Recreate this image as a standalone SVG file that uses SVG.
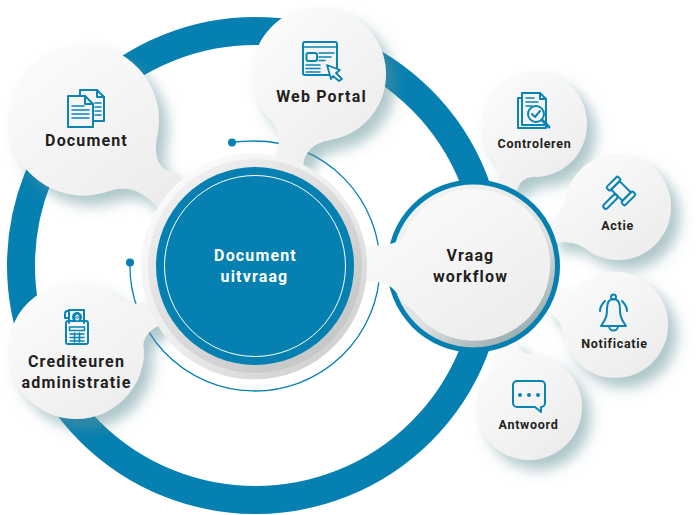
<svg xmlns="http://www.w3.org/2000/svg" width="697" height="515" viewBox="0 0 697 515">
<defs>
<linearGradient id="blobFill" x1="0.1" y1="0.05" x2="0.85" y2="0.95"><stop offset="0" stop-color="#fcfcfc"/><stop offset="1" stop-color="#ececed"/></linearGradient>
<linearGradient id="haloFill" x1="0.15" y1="0.1" x2="0.85" y2="0.9"><stop offset="0" stop-color="#fafafa"/><stop offset="0.55" stop-color="#ececec"/><stop offset="1" stop-color="#cfd0d0"/></linearGradient>
<linearGradient id="halo2Fill" x1="0.15" y1="0.1" x2="0.85" y2="0.9"><stop offset="0" stop-color="#f0f0f0"/><stop offset="1" stop-color="#c4c5c5"/></linearGradient>
<linearGradient id="wfBase" x1="0.2" y1="0.1" x2="0.8" y2="0.95"><stop offset="0" stop-color="#f2f3f3"/><stop offset="0.6" stop-color="#dde0e0"/><stop offset="1" stop-color="#93a8ab"/></linearGradient>
<filter id="shadow" x="-30%" y="-30%" width="170%" height="170%"><feDropShadow dx="9" dy="10" stdDeviation="6.500" flood-color="#5f9198" flood-opacity="0.5"/></filter>
</defs>
<style>
.blob{fill:url(#blobFill);filter:url(#shadow)}
.lbl{font-family:Roboto,"Liberation Sans",sans-serif;font-weight:700;fill:#231f20;text-anchor:middle}
.lg{font-size:16px;letter-spacing:1.150px}
.sm{font-size:12.5px;letter-spacing:.7px}
.wh{fill:#fff}
.ic{fill:none;stroke:#0a84b5;stroke-width:2;stroke-linejoin:round;stroke-linecap:round}
.in{stroke-width:1.6}
.pg{fill:#f5f5f5}
</style>
<rect width="697" height="515" fill="#fff"/>
<circle id="outer-ring" cx="255.5" cy="265.5" r="234.5" fill="none" stroke="#0580b0" stroke-width="28"/>
<g id="connectors">
<path d="M232 142.500C240 141.300 247.500 141 255 141A125 125 0 1 1 130 262" fill="none" stroke="#0580b0" stroke-width="1.300"/>
<circle cx="232" cy="142.500" r="4" fill="#0580b0"/>
<circle cx="130" cy="262.500" r="4" fill="#0580b0"/>
</g>
<g id="node-controleren">
<path class="blob" d="M490.300 154A53 53 0 1 1 537 177C528 176 520 180 517 190L498 183C500 172 498 165 490.300 154Z"/>
<g class="ic"><path d="M522 98H518V128H546V125"/><path class="pg" d="M522 93H540L546 99V125H522Z"/><path d="M540 93V99H546"/><path class="in" d="M526 98H534M526 102H538M526 106H532"/><circle class="pg" cx="536" cy="114" r="8"/><path d="M532 114L535 117L540 111"/><path stroke-width="3" d="M542 120L549 127"/></g>
<text class="lbl sm" x="534.500" y="148">Controleren</text>
</g>
<g id="node-actie">
<path class="blob" d="M566.900 193A53 53 0 1 1 590 252C580 244 570 240 553 243L548 222C556 218 564 210 566.900 193Z"/>
<g class="ic" transform="translate(621 191) rotate(45)"><rect x="-8" y="-6" width="16" height="12"/><rect x="-13" y="-8" width="5" height="16" rx="1.500"/><rect x="8" y="-8" width="5" height="16" rx="1.500"/><rect x="-2.500" y="6" width="5" height="18" rx="2.500"/></g>
<text class="lbl sm" x="617.500" y="230">Actie</text>
</g>
<g id="node-notificatie">
<path class="blob" d="M576 289A53 53 0 1 1 566 345C563 332 562 318 546 310L552 288C560 290 568 290 576 289Z"/>
<g class="ic"><path d="M601 326H626C620 318 620 314 620 309C620 302 617 299 613.500 299C610 299 607 302 607 309C607 314 607 318 601 326Z"/><circle cx="613.500" cy="297" r="2.500"/><path d="M609 326A4.500 4.500 0 0 0 618 326"/><path d="M605 301C602 304 600 307 600 311M622 301C625 304 627 307 627 311"/></g>
<text class="lbl sm" x="614.500" y="348">Notificatie</text>
</g>
<g id="node-antwoord">
<path class="blob" d="M530 354A53 53 0 1 1 494.200 367C499 360 496 352 492 342L516 340C518 348 522 354 530 354Z"/>
<g class="ic"><path d="M517 381H541A4 4 0 0 1 545 385V403A4 4 0 0 1 541 407V412L535 407H517A4 4 0 0 1 513 403V385A4 4 0 0 1 517 381Z"/></g>
<g fill="#0a84b5"><circle cx="520" cy="395" r="2"/><circle cx="529" cy="395" r="2"/><circle cx="538" cy="395" r="2"/></g>
<text class="lbl sm" x="528.500" y="429">Antwoord</text>
</g>
<g id="node-workflow">
<circle cx="473.500" cy="266" r="84" fill="url(#wfBase)" stroke="#0580b0" stroke-width="5"/>
<path d="M403 238C396 244 384 246 362 246L360 282C380 280 393 284 400 298C403 303 407 306 413 310A76 76 0 1 0 403 238Z" fill="url(#blobFill)"/>
<text class="lbl lg" x="470.500" y="261">Vraag</text>
<text class="lbl lg" x="470.500" y="282">workflow</text>
</g>
<g id="node-document">
<path class="blob" d="M157 137A75.500 75.500 0 1 0 110 190.700C127 185 143 190 160 210L190 190L178 174C165 172 152 165 157 137Z"/>
<g class="ic"><path class="pg" d="M80 96V90H97L104 97V121H93"/><path d="M97 90V97H104"/><path class="pg" d="M68 96H85L93 104V127H68Z"/><path d="M85 96V104H93"/><path class="in" d="M72 106H84M72 110H89M72 114H89M72 118H89M95 103H101M95 107H101M95 111H101M95 115H101"/></g>
<text class="lbl lg" x="86.500" y="146">Document</text>
</g>
<g id="node-webportal">
<path class="blob" d="M272.300 122A67 67 0 1 1 330.500 140C318 142 305 148 303 166L275 160C278 145 283 138 272.300 122Z"/>
<g class="ic"><rect x="303" y="42" width="34" height="33" rx="2" class="pg"/><path class="in" d="M303 47H337"/><rect x="306.500" y="53" width="10.500" height="8" rx="2"/><path class="in" d="M319 53H334M319 57H331M319 60.500H325M306 65H320M306 68.500H320M306 72H320"/><path class="pg" d="M327 65L340 70L336 73L342 79L339 81L333 76L331 79Z" stroke-width="1.800"/></g>
<text class="lbl lg" x="321.500" y="102">Web Portal</text>
</g>
<g id="node-crediteuren">
<path class="blob" d="M144 351A68 68 0 1 1 119.800 299C128 305 140 307 152 296L170 320C155 326 140 335 144 351Z"/>
<g class="ic"><path class="pg" d="M69 323V311C69 311 65 310 65 314V318H69M69 310H84V323"/><rect x="66" y="321" width="22" height="23" rx="2"/><rect x="69.500" y="327" width="15" height="3.500" class="in"/><path class="in" d="M70 334H84M70 337.500H84M70 341H84M74.500 333V342M79.500 333V342"/></g>
<circle cx="77" cy="317" r="5" fill="#0a84b5"/>
<text x="77" y="320" text-anchor="middle" font-family="Roboto,'Liberation Sans',sans-serif" font-weight="700" font-size="8" fill="#fff">$</text>
<text class="lbl lg" x="76.500" y="367">Crediteuren</text>
<text class="lbl lg" x="76.500" y="388">administratie</text>
</g>
<g id="node-center">
<circle cx="254" cy="266.500" r="113" fill="url(#haloFill)"/>
<circle cx="255" cy="266" r="107" fill="url(#halo2Fill)"/>
<circle cx="255" cy="266" r="99" fill="#0580b0"/>
<circle cx="255" cy="266" r="90.500" fill="none" stroke="#fff" stroke-width="1"/>
<text class="lbl lg wh" x="255.500" y="261">Document</text>
<text class="lbl lg wh" x="254.500" y="282">uitvraag</text>
</g>
</svg>
